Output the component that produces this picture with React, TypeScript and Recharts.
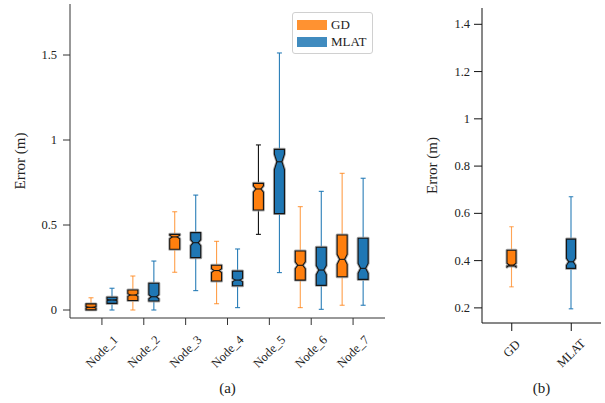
import React from 'react';
import { ComposedChart, Bar, XAxis, YAxis, Legend, Label } from 'recharts';

// ---------- data (a): per node ----------
const nodes = ['Node_1', 'Node_2', 'Node_3', 'Node_4', 'Node_5', 'Node_6', 'Node_7'];
const gdMin = [0.0, 0.0, 0.222, 0.037, 0.445, 0.014, 0.028];
const gdQ1 = [0.001, 0.056, 0.357, 0.171, 0.588, 0.176, 0.196];
const gdMed = [0.016, 0.088, 0.43, 0.232, 0.712, 0.263, 0.298];
const gdQ3 = [0.036, 0.118, 0.445, 0.263, 0.745, 0.347, 0.441];
const gdMax = [0.072, 0.2, 0.578, 0.404, 0.971, 0.608, 0.804];

const mlatMin = [0.0, 0.0, 0.114, 0.014, 0.22, 0.004, 0.028];
const mlatQ1 = [0.039, 0.053, 0.308, 0.143, 0.567, 0.145, 0.18];
const mlatMed = [0.059, 0.078, 0.396, 0.176, 0.872, 0.235, 0.245];
const mlatQ3 = [0.075, 0.157, 0.455, 0.229, 0.945, 0.369, 0.422];
const mlatMax = [0.128, 0.288, 0.676, 0.359, 1.512, 0.698, 0.775];

// ---------- data (b): overall ----------
const methods = ['GD', 'MLAT'];
const allMin = [0.289, 0.196];
const allQ1 = [0.377, 0.367];
const allMed = [0.381, 0.395];
const allQ3 = [0.444, 0.491];
const allMax = [0.543, 0.67];

const leftTicks = [0, 0.5, 1, 1.5];
const rightTicks = [0.2, 0.4, 0.6, 0.8, 1, 1.2, 1.4];

// ---------- styles ----------
const FONT = "'Liberation Serif', 'DejaVu Serif', serif";
const AXIS = '#333';
const ORANGE = '#ff7f0e';
const BLUE = '#1f77b4';
const colorOf: Record<string, string> = { GD: ORANGE, MLAT: BLUE };
const darkWhiskerNodes = new Set(['Node_5']);
const NOTCH = 0.12;

const leftRows = nodes.map((n, i) => ({
  name: n,
  gdMin: gdMin[i], gdQ1: gdQ1[i], gdMed: gdMed[i], gdQ3: gdQ3[i], gdMax: gdMax[i],
  mlatMin: mlatMin[i], mlatQ1: mlatQ1[i], mlatMed: mlatMed[i], mlatQ3: mlatQ3[i], mlatMax: mlatMax[i],
}));

const rightRows = methods.map((m, i) => ({
  name: m, min: allMin[i], q1: allQ1[i], med: allMed[i], q3: allQ3[i], max: allMax[i],
}));

type Stats = { lo: number; q1: number; med: number; q3: number; hi: number };

function BoxGlyph(props: any) {
  const { x, y, width, height, s, color, whisker, whiskerOpacity } = props;
  if (x == null || y == null) return null;
  const top = height >= 0 ? y : y + height;
  const h = Math.abs(height);
  const ppu = h / (s.hi - s.lo);
  const Y = (v: number) => top + (s.hi - v) * ppu;
  const cx = x + width / 2;
  const L = x;
  const R = x + width;
  const iqr = s.q3 - s.q1;
  const nl = s.med - NOTCH * iqr;
  const nh = s.med + NOTCH * iqr;
  const inL = cx - width * 0.25;
  const inR = cx + width * 0.25;
  const pts: [number, number][] = [
    [L, Y(s.q1)], [L, Y(nl)], [inL, Y(s.med)], [L, Y(nh)], [L, Y(s.q3)],
    [R, Y(s.q3)], [R, Y(nh)], [inR, Y(s.med)], [R, Y(nl)], [R, Y(s.q1)],
  ];
  const d = 'M' + pts.map((p) => `${p[0]},${p[1]}`).join('L') + 'Z';
  const capL = cx - width * 0.25;
  const capR = cx + width * 0.25;
  return (
    <g>
      <g stroke={whisker} strokeOpacity={whiskerOpacity} strokeWidth={1.1}>
        <line x1={cx} x2={cx} y1={Y(s.hi)} y2={Y(s.q3)} />
        <line x1={cx} x2={cx} y1={Y(s.q1)} y2={Y(s.lo)} />
        <line x1={capL} x2={capR} y1={Y(s.hi)} y2={Y(s.hi)} />
        <line x1={capL} x2={capR} y1={Y(s.lo)} y2={Y(s.lo)} />
      </g>
      <path d={d} fill="none" stroke="#9a9a9a" strokeOpacity={0.8} strokeWidth={3} strokeLinejoin="round" />
      <path d={d} fill={color} stroke="#151515" strokeWidth={1.1} strokeLinejoin="miter" />
      <line x1={inL} x2={inR} y1={Y(s.med)} y2={Y(s.med)} stroke="#151515" strokeWidth={1.1} />
    </g>
  );
}

const gdShape = (p: any) => {
  const r = p.payload;
  const dark = darkWhiskerNodes.has(r.name);
  return (
    <BoxGlyph {...p} s={{ lo: r.gdMin, q1: r.gdQ1, med: r.gdMed, q3: r.gdQ3, hi: r.gdMax }}
      color={ORANGE} whisker={dark ? '#111' : ORANGE} whiskerOpacity={dark ? 1 : 0.75} />
  );
};
const mlatShape = (p: any) => {
  const r = p.payload;
  return (
    <BoxGlyph {...p} s={{ lo: r.mlatMin, q1: r.mlatQ1, med: r.mlatMed, q3: r.mlatQ3, hi: r.mlatMax }}
      color={BLUE} whisker={BLUE} whiskerOpacity={0.95} />
  );
};
const allShape = (p: any) => {
  const r = p.payload;
  const c = colorOf[r.name];
  return (
    <BoxGlyph {...p} s={{ lo: r.min, q1: r.q1, med: r.med, q3: r.q3, hi: r.max }}
      color={c} whisker={c} whiskerOpacity={r.name === 'GD' ? 0.7 : 0.95} />
  );
};

const txt = { fontFamily: FONT };

const RotTick = (props: any) => {
  const { x, y, payload } = props;
  const s = String(payload.value);
  const est = s.length * 6.4 + 9;
  const cy = y + 8 + est / (2 * Math.SQRT2);
  return (
    <text x={x} y={cy} transform={`rotate(-45 ${x} ${cy})`} textAnchor="middle" dominantBaseline="central"
      style={txt} fontSize={12.5} fill="#222">
      {s}
    </text>
  );
};

const YTick = (props: any) => {
  const { x, y, payload } = props;
  return (
    <text x={x} y={y} textAnchor="end" dominantBaseline="central" style={txt} fontSize={12.5} fill="#222">
      {String(payload.value)}
    </text>
  );
};

const yTitle = (dxFromLeft: number) => (p: any) => {
  const vb = p.viewBox;
  const cx = vb.x + dxFromLeft;
  const cy = vb.y + vb.height / 2;
  return (
    <text x={cx} y={cy} transform={`rotate(-90 ${cx} ${cy})`} textAnchor="middle" dominantBaseline="central"
      style={txt} fontSize={15} fill="#222">
      Error (m)
    </text>
  );
};

const subTitle = (t: string) => (p: any) => {
  const vb = p.viewBox;
  return (
    <text x={vb.x + vb.width / 2} y={vb.y + vb.height - 10} textAnchor="middle" style={txt} fontSize={15} fill="#222">
      {t}
    </text>
  );
};

const LegendBox = (props: any) => {
  const items = (props.payload || []) as any[];
  return (
    <div style={{
      width: 81, height: 42, border: '1px solid #d0d0d0', borderRadius: 3, background: '#fff',
      boxSizing: 'border-box', fontFamily: FONT, fontSize: 13, color: '#222', position: 'relative',
    }}>
      {items.map((it, i) => (
        <div key={i} style={{ position: 'absolute', left: 4, top: 6 + i * 17, height: 12, display: 'flex', alignItems: 'center' }}>
          <div style={{
            width: 30, height: 10, background: it.color, opacity: 0.85, border: `1px solid ${it.color}`,
            boxSizing: 'border-box', marginRight: 4,
          }} />
          <span style={{ lineHeight: '12px' }}>{it.value}</span>
        </div>
      ))}
    </div>
  );
};

export default function App() {
  return (
    <div style={{ position: 'absolute', left: 0, top: 0, width: 605, height: 403, background: '#fff', fontFamily: FONT }}>
      <div style={{ position: 'absolute', left: 0, top: 0 }}>
        <ComposedChart width={400} height={403} data={leftRows} margin={{ top: 4, right: 15, bottom: 0, left: 0 }}
          barGap={11} barSize={10} style={txt}>
          <XAxis dataKey="name" height={85} padding={{ left: 11, right: 11 }} tickSize={7}
            axisLine={{ stroke: AXIS }} tickLine={{ stroke: AXIS }} tick={<RotTick />} interval={0}>
            <Label content={subTitle('(a)')} />
          </XAxis>
          <XAxis xAxisId="top" orientation="top" dataKey="name" height={0} tick={false} tickLine={false}
            axisLine={{ stroke: AXIS }} />
          <YAxis width={70} domain={[-0.047, 1.8]} ticks={leftTicks} allowDataOverflow
            tickSize={7} tickMargin={6} axisLine={{ stroke: AXIS }} tickLine={{ stroke: AXIS }}
            tick={<YTick />}>
            <Label content={yTitle(20)} />
          </YAxis>
          <YAxis yAxisId="r" orientation="right" width={0} tick={false} tickLine={false} axisLine={{ stroke: AXIS }} />
          <Legend layout="horizontal" verticalAlign="middle" align="center" content={<LegendBox />}
            wrapperStyle={{ left: 292, top: 12, width: 81, height: 42 }} />
          <Bar name="GD" dataKey={(d: any) => [d.gdMin, d.gdMax]} fill={ORANGE} shape={gdShape} isAnimationActive={false} />
          <Bar name="MLAT" dataKey={(d: any) => [d.mlatMin, d.mlatMax]} fill={BLUE} shape={mlatShape} isAnimationActive={false} />
        </ComposedChart>
      </div>
      <div style={{ position: 'absolute', left: 420, top: 0 }}>
        <ComposedChart width={185} height={403} data={rightRows} margin={{ top: 8, right: 4, bottom: 0, left: 0 }}
          barSize={9} style={txt}>
          <XAxis dataKey="name" height={80} tickSize={8} axisLine={{ stroke: '#111' }} tickLine={{ stroke: '#111' }}
            tick={<RotTick />} interval={0}>
            <Label content={subTitle('(b)')} />
          </XAxis>
          <XAxis xAxisId="top" orientation="top" dataKey="name" height={0} tick={false} tickLine={false}
            axisLine={{ stroke: '#111' }} />
          <YAxis width={62} domain={[0.136, 1.469]} ticks={rightTicks} allowDataOverflow
            tickSize={8} tickMargin={4} axisLine={{ stroke: '#111' }} tickLine={{ stroke: '#111' }}
            tick={<YTick />}>
            <Label content={yTitle(12)} />
          </YAxis>
          <YAxis yAxisId="r" orientation="right" width={0} tick={false} tickLine={false} axisLine={{ stroke: '#111' }} />
          <Bar name="Overall" dataKey={(d: any) => [d.min, d.max]} fill={BLUE} shape={allShape} isAnimationActive={false} />
        </ComposedChart>
      </div>
    </div>
  );
}
